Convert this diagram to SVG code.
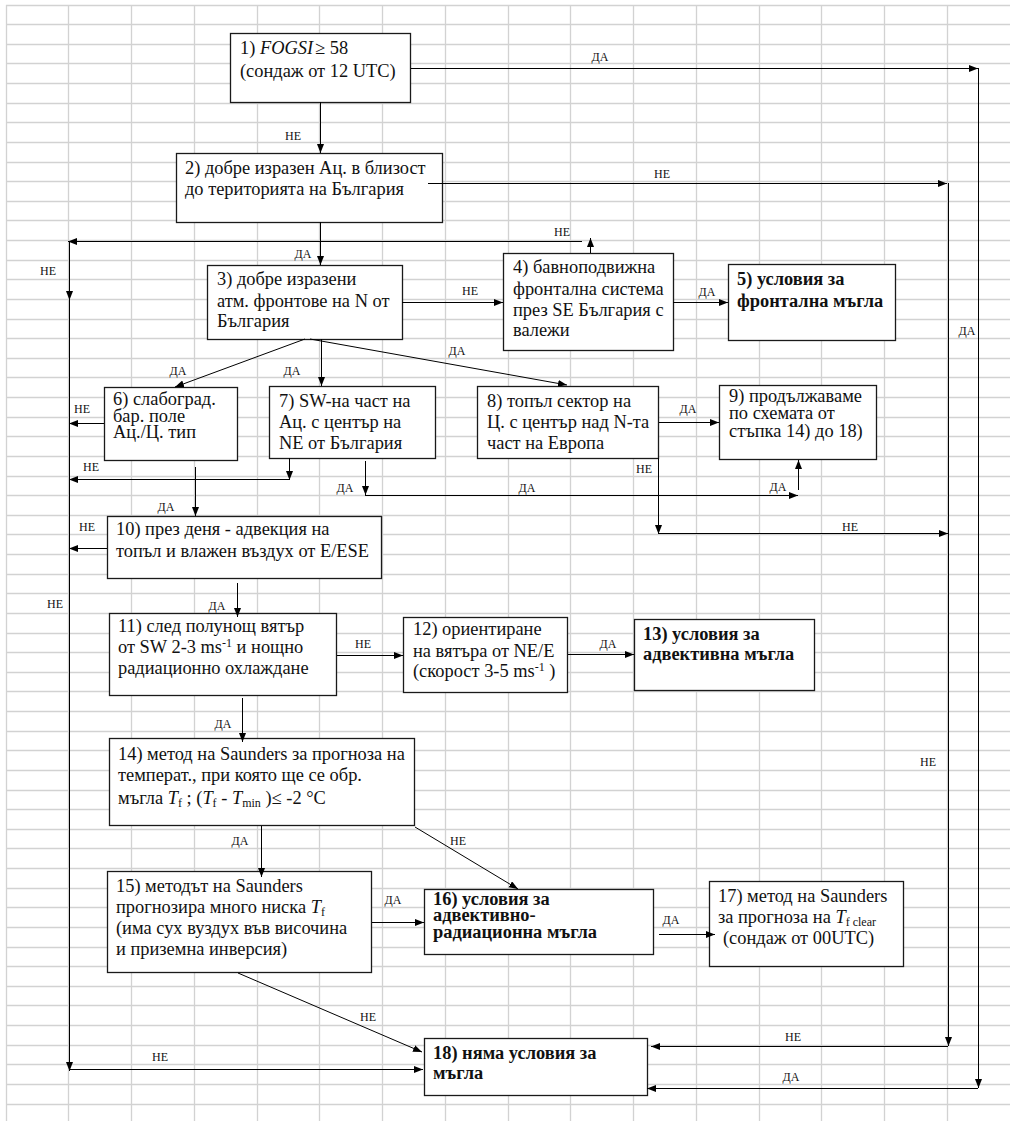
<svg xmlns="http://www.w3.org/2000/svg" width="1010" height="1121" viewBox="0 0 1010 1121">
<defs>
<marker id="ah" markerWidth="10" markerHeight="8" refX="9" refY="3.5" orient="auto" markerUnits="userSpaceOnUse">
<path d="M0,0 L9,3.5 L0,7 z" fill="#000"/>
</marker>
<style>
.grid{stroke:#d2d2d2;stroke-width:1.3;fill:none}
.box{fill:#fff;stroke:#1a1a1a;stroke-width:1.3}
.t{font-family:"Liberation Serif","Times New Roman",serif;font-size:18.4px;fill:#111}
.b{font-weight:bold}
.lbl{font-family:"Liberation Serif","Times New Roman",serif;font-size:12px;fill:#111;text-anchor:middle}
.ca{stroke:#000;stroke-width:1;fill:none;marker-end:url(#ah)}
</style>
</defs>
<rect width="1010" height="1121" fill="#fff"/>
<path class="grid" d="M6.5,5 V1121 M68.5,5 V1121 M131.5,5 V1121 M194.5,5 V1121 M257.5,5 V1121 M319.5,5 V1121 M382.5,5 V1121 M445.5,5 V1121 M508.5,5 V1121 M570.5,5 V1121 M633.5,5 V1121 M696.5,5 V1121 M759.5,5 V1121 M821.5,5 V1121 M884.5,5 V1121 M947.5,5 V1121
M6,5.5 H1010 M6,24.5 H1010 M6,44.5 H1010 M6,63.5 H1010 M6,83.5 H1010 M6,103.5 H1010 M6,122.5 H1010 M6,142.5 H1010 M6,162.5 H1010 M6,181.5 H1010 M6,201.5 H1010 M6,220.5 H1010 M6,240.5 H1010 M6,260.5 H1010 M6,279.5 H1010 M6,299.5 H1010 M6,319.5 H1010 M6,338.5 H1010 M6,358.5 H1010 M6,377.5 H1010 M6,397.5 H1010 M6,417.5 H1010 M6,436.5 H1010 M6,456.5 H1010 M6,476.5 H1010 M6,495.5 H1010 M6,515.5 H1010 M6,534.5 H1010 M6,554.5 H1010 M6,574.5 H1010 M6,593.5 H1010 M6,613.5 H1010 M6,633.5 H1010 M6,652.5 H1010 M6,672.5 H1010 M6,691.5 H1010 M6,711.5 H1010 M6,731.5 H1010 M6,750.5 H1010 M6,770.5 H1010 M6,790.5 H1010 M6,809.5 H1010 M6,829.5 H1010 M6,848.5 H1010 M6,868.5 H1010 M6,888.5 H1010 M6,907.5 H1010 M6,927.5 H1010 M6,947.5 H1010 M6,966.5 H1010 M6,986.5 H1010 M6,1005.5 H1010 M6,1025.5 H1010 M6,1045.5 H1010 M6,1064.5 H1010 M6,1084.5 H1010 M6,1104.5 H1010"/>

<g id="n1">
<rect class="box" x="230.5" y="33.5" width="180" height="69"/>
<text class="t" x="240" y="54"><tspan>1) </tspan><tspan font-style="italic">FOGSI</tspan><tspan dx="2">≥ 58</tspan></text>
<text class="t" x="240" y="76.5">(сондаж от 12 UTC)</text>
</g>
<g id="n2">
<rect class="box" x="176.5" y="153.5" width="266" height="69"/>
<text class="t" x="185" y="174">2) добре изразен Ац.  в близост</text>
<text class="t" x="185" y="195">до територията на България</text>
</g>
<g id="n3">
<rect class="box" x="207.5" y="265.5" width="195" height="74"/>
<text class="t" x="217" y="285">3) добре изразени</text>
<text class="t" x="217" y="306.5">атм.  фронтове на N от</text>
<text class="t" x="217" y="327">България</text>
</g>
<g id="n4">
<rect class="box" x="503.5" y="253.5" width="170" height="97"/>
<text class="t" x="513" y="272.5">4) бавноподвижна</text>
<text class="t" x="513" y="294.5">фронтална система</text>
<text class="t" x="513" y="315.5">през SE България с</text>
<text class="t" x="513" y="336">валежи</text>
</g>
<g id="n5">
<rect class="box" x="728.5" y="264.5" width="167" height="76"/>
<text class="t b" x="737" y="285">5) условия за</text>
<text class="t b" x="737" y="306.5">фронтална мъгла</text>
</g>
<g id="n6">
<rect class="box" x="104.5" y="387.5" width="133" height="73"/>
<text class="t" x="113" y="405">6) слабоград.</text>
<text class="t" x="113" y="421.5">бар. поле</text>
<text class="t" x="113" y="438">Ац./Ц. тип</text>
</g>
<g id="n7">
<rect class="box" x="269.5" y="386.5" width="166" height="72"/>
<text class="t" x="279" y="406.5">7) SW-на част на</text>
<text class="t" x="279" y="428">Ац. с център на</text>
<text class="t" x="279" y="449">NE от България</text>
</g>
<g id="n8">
<rect class="box" x="477.5" y="386.5" width="181" height="72"/>
<text class="t" x="487" y="406.5">8) топъл сектор на</text>
<text class="t" x="487" y="428">Ц. с център над N-та</text>
<text class="t" x="487" y="449">част на Европа</text>
</g>
<g id="n9">
<rect class="box" x="719.5" y="385.5" width="157" height="74"/>
<text class="t" x="729" y="401.5">9) продължаваме</text>
<text class="t" x="729" y="418.5">по схемата от</text>
<text class="t" x="729" y="436.5">стъпка 14) до 18)</text>
</g>
<g id="n10">
<rect class="box" x="107.5" y="516.5" width="274" height="62"/>
<text class="t" x="116" y="535">10) през деня - адвекция на</text>
<text class="t" x="116" y="556.5">топъл и влажен въздух от E/ESE</text>
</g>
<g id="n11">
<rect class="box" x="109.5" y="613.5" width="227" height="82"/>
<text class="t" x="118" y="631.5">11) след полунощ вятър</text>
<text class="t" x="118" y="653">от SW 2-3 ms<tspan font-size="12" dy="-6">-1</tspan><tspan dy="6"> и нощно</tspan></text>
<text class="t" x="118" y="674">радиационно охлаждане</text>
</g>
<g id="n12">
<rect class="box" x="403.5" y="617.5" width="164" height="75"/>
<text class="t" x="413" y="635">12) ориентиране</text>
<text class="t" x="413" y="656.5">на вятъра от NE/E</text>
<text class="t" x="413" y="676.5">(скорост 3-5 ms<tspan font-size="12" dy="-6">-1</tspan><tspan dy="6"> )</tspan></text>
</g>
<g id="n13">
<rect class="box" x="634.5" y="619.5" width="180" height="71"/>
<text class="t b" x="643" y="640">13) условия за</text>
<text class="t b" x="643" y="660">адвективна мъгла</text>
</g>
<g id="n14">
<rect class="box" x="109.5" y="738.5" width="305" height="87"/>
<text class="t" x="118" y="760">14) метод на Saunders за прогноза на</text>
<text class="t" x="118" y="780.5">температ., при която ще се обр.</text>
<text class="t" x="118" y="804">мъгла <tspan font-style="italic">T</tspan><tspan font-size="12" dy="3">f</tspan><tspan dy="-3"> ; (</tspan><tspan font-style="italic">T</tspan><tspan font-size="12" dy="3">f</tspan><tspan dy="-3"> - </tspan><tspan font-style="italic">T</tspan><tspan font-size="12" dy="3">min</tspan><tspan dy="-3"> )≤ -2 °C</tspan></text>
</g>
<g id="n15">
<rect class="box" x="107.5" y="871.5" width="264" height="101"/>
<text class="t" x="116" y="891.5">15) методът на Saunders</text>
<text class="t" x="116" y="913">прогнозира много ниска <tspan font-style="italic">T</tspan><tspan font-size="12" dy="3">f</tspan></text>
<text class="t" x="116" y="933.5">(има сух вуздух във височина</text>
<text class="t" x="116" y="955">и приземна инверсия)</text>
</g>
<g id="n16">
<rect class="box" x="424.5" y="889.5" width="229" height="65"/>
<text class="t b" x="433" y="905">16) условия за</text>
<text class="t b" x="433" y="921">адвективно-</text>
<text class="t b" x="433" y="938">радиационна мъгла</text>
</g>
<g id="n17">
<rect class="box" x="709.5" y="881.5" width="194" height="85"/>
<text class="t" x="718" y="902">17) метод на Saunders</text>
<text class="t" x="718" y="923">за прогноза на <tspan font-style="italic">T</tspan><tspan font-size="12" dy="3">f clear</tspan></text>
<text class="t" x="723" y="943.5">(сондаж от 00UTC)</text>
</g>
<g id="n18">
<rect class="box" x="424.5" y="1038.5" width="223" height="57"/>
<text class="t b" x="433" y="1059">18) няма условия за</text>
<text class="t b" x="433" y="1079">мъгла</text>
</g>

<g id="connectors">
<path class="ca" d="M320.5,102 V153"/>
<path class="ca" d="M411,68.5 H978"/>
<path class="ca" d="M978.5,68 V1088"/>
<path class="ca" d="M978,1088.5 H647"/>
<path class="ca" d="M428,183.5 H947"/>
<path class="ca" d="M948.5,183 V1046"/>
<path class="ca" d="M948,1046.5 H651"/>
<path class="ca" d="M320.5,222 V265"/>
<path class="ca" d="M590.5,253 V238"/>
<path class="ca" d="M582,241.5 H68"/>
<path class="ca" d="M69.5,241 V300"/>
<path class="ca" d="M69.5,299 V1071"/>
<path class="ca" d="M69,1069.5 H423"/>
<path class="ca" d="M402,302.5 H503"/>
<path class="ca" d="M673,302.5 H728"/>
<path class="ca" d="M305,339 L175,387"/>
<path class="ca" d="M321.5,339 V386"/>
<path class="ca" d="M310,339 L567,385"/>
<path class="ca" d="M104,423.5 H69"/>
<path class="ca" d="M289.5,458 V480"/>
<path class="ca" d="M289,479.5 H69"/>
<path class="ca" d="M195.5,467 V516"/>
<path class="ca" d="M365.5,461 V495"/>
<path class="ca" d="M365,495.5 H798"/>
<path class="ca" d="M798.5,490 V460"/>
<path class="ca" d="M659,422.5 H719"/>
<path class="ca" d="M658.5,458 V534"/>
<path class="ca" d="M658,533.5 H948"/>
<path class="ca" d="M107,548.5 H69"/>
<path class="ca" d="M237.5,583 V617"/>
<path class="ca" d="M337,655.5 H403"/>
<path class="ca" d="M568,654.5 H634"/>
<path class="ca" d="M242.5,698 V742"/>
<path class="ca" d="M261.5,826 V877"/>
<path class="ca" d="M415,827 L518,889"/>
<path class="ca" d="M372,922.5 H424"/>
<path class="ca" d="M659,934.5 H715"/>
<path class="ca" d="M238,973 L422,1052"/>
<text class="lbl" x="293" y="139.5">НЕ</text>
<text class="lbl" x="600" y="61">ДА</text>
<text class="lbl" x="662" y="178">НЕ</text>
<text class="lbl" x="562" y="236">НЕ</text>
<text class="lbl" x="303" y="258">ДА</text>
<text class="lbl" x="48" y="275">НЕ</text>
<text class="lbl" x="470" y="294.5">НЕ</text>
<text class="lbl" x="707" y="296">ДА</text>
<text class="lbl" x="967" y="334.5">ДА</text>
<text class="lbl" x="178" y="374.5">ДА</text>
<text class="lbl" x="292" y="374.5">ДА</text>
<text class="lbl" x="457" y="354.5">ДА</text>
<text class="lbl" x="82" y="413">НЕ</text>
<text class="lbl" x="688" y="413">ДА</text>
<text class="lbl" x="91" y="471">НЕ</text>
<text class="lbl" x="644" y="473">НЕ</text>
<text class="lbl" x="345" y="492">ДА</text>
<text class="lbl" x="527" y="492">ДА</text>
<text class="lbl" x="778" y="491">ДА</text>
<text class="lbl" x="166" y="510.5">ДА</text>
<text class="lbl" x="87" y="530.5">НЕ</text>
<text class="lbl" x="850" y="530.5">НЕ</text>
<text class="lbl" x="55" y="608">НЕ</text>
<text class="lbl" x="217" y="609.5">ДА</text>
<text class="lbl" x="363" y="648">НЕ</text>
<text class="lbl" x="608" y="648">ДА</text>
<text class="lbl" x="223" y="728">ДА</text>
<text class="lbl" x="928" y="766">НЕ</text>
<text class="lbl" x="240" y="844.5">ДА</text>
<text class="lbl" x="458" y="844.5">НЕ</text>
<text class="lbl" x="393" y="903.5">ДА</text>
<text class="lbl" x="671" y="923.5">ДА</text>
<text class="lbl" x="368" y="1021">НЕ</text>
<text class="lbl" x="160" y="1061">НЕ</text>
<text class="lbl" x="793" y="1041">НЕ</text>
<text class="lbl" x="791" y="1080.5">ДА</text>
</g>
</svg>
